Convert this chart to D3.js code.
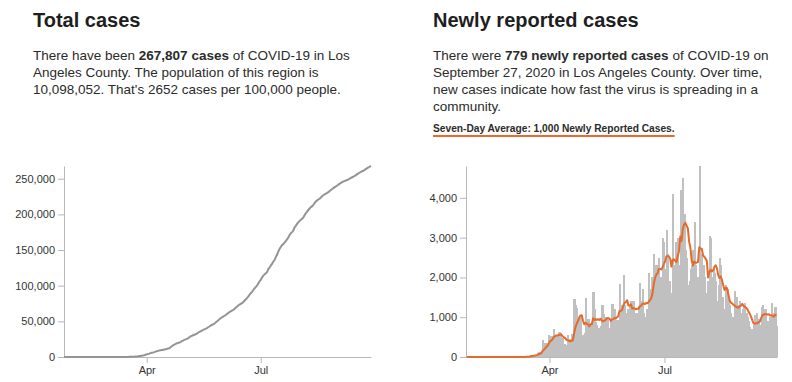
<!DOCTYPE html>
<html>
<head>
<meta charset="utf-8">
<script src="https://cdn.jsdelivr.net/npm/d3@7"></script>
<style>
  body { margin: 0; background: #fff; }
  svg { display: block; font-family: Arial, "Liberation Sans", Helvetica, sans-serif; }
</style>
</head>
<body>
<script>
// new cases per day in LA County (Jan 26 - Sep 27, 2020)
const startDate = new Date(2020, 0, 26);

const janFebCases = [1, 0, 0, 0, 0, 0, 0, 0, 0, 0, 0, 0, 0, 0, 0, 0, 0, 0, 0, 0,
  0, 0, 0, 0, 0, 0, 0, 0, 0, 0, 0, 0, 0, 0, 0];
const marCases = [0, 0, 0, 6, 4, 0, 1, 0, 2, 3, 7, 4, 13, 13, 16, 25, 50, 45, 40, 60,
  62, 100, 128, 130, 138, 420, 257, 343, 342, 342, 548];
const aprCases = [530, 520, 530, 710, 520, 420, 550, 620, 610, 470, 470, 320, 290, 240, 560,
  460, 410, 580, 410, 1460, 1300, 1220, 900, 1030, 1000, 440, 560, 600, 1480, 730];
const mayCases = [960, 620, 800, 570, 1640, 1200, 880, 810, 740, 680, 780, 1300, 1080, 1000, 970,
  1000, 720, 690, 900, 1330, 1050, 1200, 900, 930, 900, 1840, 1300, 1200, 2050, 1300, 1100];
const junCases = [1200, 900, 1300, 1400, 1300, 1400, 1000, 1100, 1000, 1270, 1850, 1400, 1700, 1100, 1000,
  1200, 1200, 2100, 1700, 2000, 2000, 2600, 2300, 1800, 2300, 2500, 2000, 1900, 3000, 2900];
const julCases = [2200, 3200, 2600, 1900, 1500, 1600, 4100, 2300, 2900, 2400, 3000, 2300, 4200, 3300, 4500,
  3600, 2700, 2500, 1800, 1900, 2200, 2300, 2700, 3400, 2300, 1800, 2000, 4800, 2100, 2600, 2300];
const augCases = [2000, 1500, 1600, 1900, 3050, 3000, 2000, 2200, 2100, 1900, 1400, 1800, 2500, 2300, 1500,
  1200, 1100, 1800, 1700, 1400, 1300, 1100, 1000, 900, 1650, 1500, 1300, 1200, 1400, 1100, 1200];
const sepCases = [1300, 1350, 1100, 1000, 900, 750, 700, 650, 800, 1050, 1100, 900, 950, 800, 1250,
  1300, 1150, 1200, 880, 900, 850, 1000, 1350, 1100, 1000, 1250, 779];

const totalText = [
  [["There have been ", false], ["267,807 cases", true], [" of COVID-19 in Los", false]],
  [["Angeles County. The population of this region is", false]],
  [["10,098,052. That's 2652 cases per 100,000 people.", false]]
];
const newText = [
  [["There were ", false], ["779 newly reported cases", true], [" of COVID-19 on", false]],
  [["September 27, 2020 in Los Angeles County. Over time,", false]],
  [["new cases indicate how fast the virus is spreading in a", false]],
  [["community.", false]]
];
const avgLabel = "Seven-Day Average: 1,000 Newly Reported Cases.";

const daily = [].concat(janFebCases, marCases, aprCases, mayCases, junCases, julCases, augCases, sepCases);
const dates = daily.map((d, i) => d3.timeDay.offset(startDate, i));
const total = Array.from(d3.cumsum(daily));
const avg7 = daily.map((d, i) => d3.mean(daily.slice(Math.max(0, i - 6), i + 1)));

const width = 792, height = 382;
const orange = "#e56a2c";

const svg = d3.select("body").append("svg")
    .attr("width", width)
    .attr("height", height);

// headings + paragraphs
function block(x, title, lines) {
  svg.append("text")
      .attr("x", x).attr("y", 27)
      .attr("fill", "#1e1e1e")
      .style("font-size", "20px")
      .style("font-weight", "bold")
      .text(title);

  lines.forEach((parts, i) => {
    const t = svg.append("text")
        .attr("x", x).attr("y", 59.5 + i * 17)
        .attr("fill", "#2b2b2b")
        .style("font-size", "13.5px");
    parts.forEach(p => {
      t.append("tspan")
          .style("font-weight", p[1] ? "bold" : "normal")
          .text(p[0]);
    });
  });
}

block(33, "Total cases", totalText);
block(433, "Newly reported cases", newText);

const avgText = svg.append("text")
    .attr("x", 433).attr("y", 132)
    .attr("fill", "#2b2b2b")
    .style("font-size", "10.2px")
    .style("font-weight", "bold")
    .text(avgLabel);
const avgW = avgText.node().getComputedTextLength();
svg.append("line")
    .attr("x1", 433).attr("x2", 433 + avgW)
    .attr("y1", 136).attr("y2", 136)
    .attr("stroke", orange)
    .attr("stroke-width", 2);

function styleAxis(g) {
  g.selectAll(".domain, .tick line").attr("stroke", "#b8b8b8");
  g.selectAll("text").attr("fill", "#333").style("font-size", "11px").style("font-family", null);
}

// ---- total cases (left)
const xL = d3.scaleTime()
    .domain([dates[0], dates[dates.length - 1]])
    .range([64, 371]);
const yL = d3.scaleLinear()
    .domain([0, d3.max(total)])
    .range([357, 166]);

svg.append("g")
    .attr("transform", "translate(0,357)")
    .call(d3.axisBottom(xL).ticks(d3.timeMonth.every(3)).tickFormat(d3.timeFormat("%b")).tickSizeOuter(0))
    .call(styleAxis);
svg.append("g")
    .attr("transform", "translate(64,0)")
    .call(d3.axisLeft(yL).ticks(5).tickSizeOuter(0))
    .call(styleAxis);

svg.append("path")
    .datum(total)
    .attr("fill", "none")
    .attr("stroke", "#949494")
    .attr("stroke-width", 2)
    .attr("d", d3.line()
      .x((d, i) => xL(dates[i]))
      .y(d => yL(d)));

// ---- newly reported (right)
const xR = d3.scaleTime()
    .domain([dates[0], d3.timeDay.offset(dates[dates.length - 1], 1)])
    .range([466, 777]);
const yR = d3.scaleLinear()
    .domain([0, d3.max(daily)])
    .range([357, 166]);
const dayW = xR(d3.timeDay.offset(startDate, 1)) - xR(startDate);

svg.append("g")
    .attr("fill", "#c0c0c0")
    .attr("shape-rendering", "crispEdges")
    .selectAll("rect")
    .data(daily)
    .join("rect")
      .attr("x", (d, i) => xR(dates[i]))
      .attr("width", dayW + 1)
      .attr("y", d => yR(d))
      .attr("height", d => 357 - yR(d));

svg.append("g")
    .attr("transform", "translate(0,357)")
    .call(d3.axisBottom(xR).ticks(d3.timeMonth.every(3)).tickFormat(d3.timeFormat("%b")).tickSizeOuter(0))
    .call(styleAxis);
svg.append("g")
    .attr("transform", "translate(466,0)")
    .call(d3.axisLeft(yR).ticks(5).tickSizeOuter(0))
    .call(styleAxis);

svg.append("path")
    .datum(avg7)
    .attr("fill", "none")
    .attr("stroke", orange)
    .attr("stroke-width", 2)
    .attr("stroke-linejoin", "round")
    .attr("d", d3.line()
      .x((d, i) => xR(dates[i]) + dayW / 2)
      .y(d => yR(d)));
</script>
</body>
</html>
